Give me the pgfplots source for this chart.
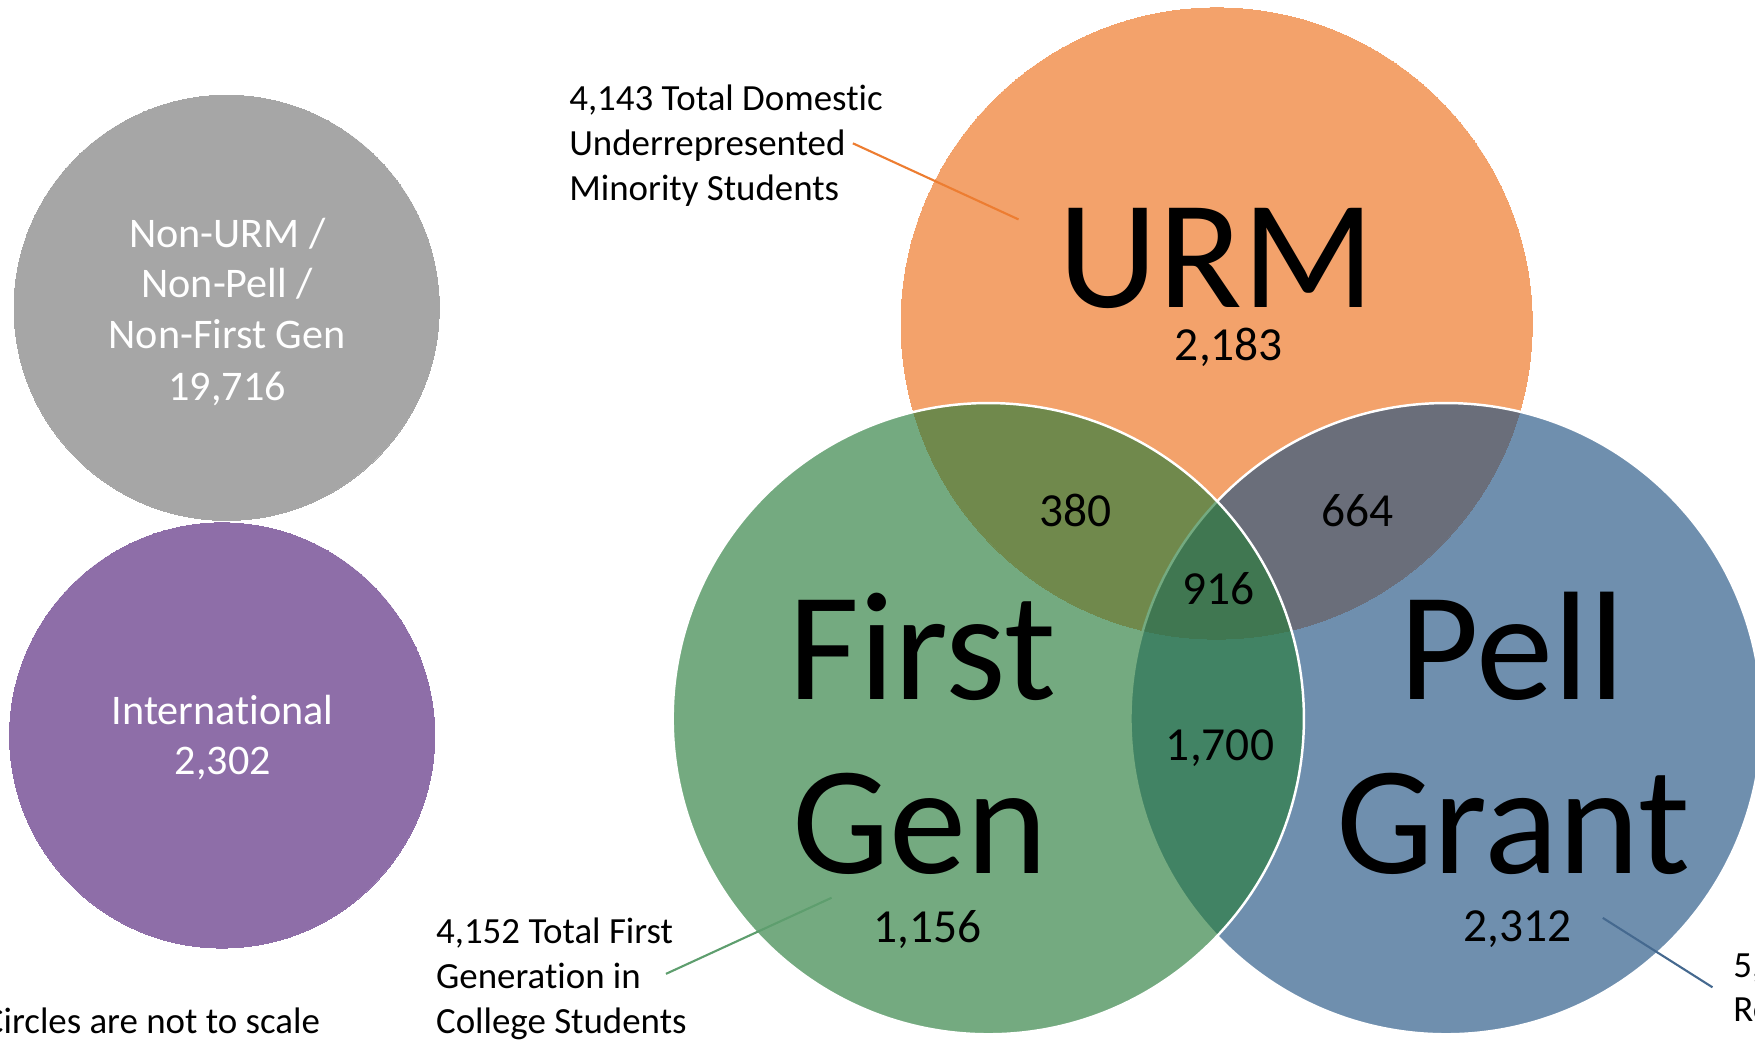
\documentclass[border=0pt]{standalone}
\usepackage{pgfplots}
\pgfplotsset{compat=1.18}
\usepackage{fontspec}
\setmainfont{Carlito}[Ligatures={NoCommon}]
\definecolor{grayc}{RGB}{166,166,166}
\definecolor{purplec}{RGB}{142,110,168}
\definecolor{orangec}{RGB}{243,162,107}
\definecolor{bluec}{RGB}{34,83,131}
\definecolor{greenc}{RGB}{42,125,60}
\definecolor{orangeline}{RGB}{237,125,49}
\definecolor{greenline}{RGB}{94,158,110}
\definecolor{blueline}{RGB}{69,105,143}
\tikzset{
  num/.style={anchor=base, inner sep=0pt, font=\fontsize{13.5}{16}\selectfont},
  big/.style={anchor=base, inner sep=0pt, font=\fontsize{44}{48}\selectfont},
  wt/.style={anchor=base, inner sep=0pt, text=white, font=\fontsize{12}{14.4}\selectfont},
  call/.style={anchor=base west, inner sep=0pt, font=\fontsize{10.5}{12.7}\selectfont},
}
\pgfplotsset{canvas/.style={at={(0,0)}, anchor=south west, width=17.55cm, height=10.41cm,
  scale only axis, xmin=0, xmax=1568, ymin=0, ymax=930, y dir=reverse,
  hide axis, clip=false}}
\begin{document}
\begin{tikzpicture}
\useasboundingbox (0,0) rectangle (17.55cm,10.41cm);
\clip (0,0) rectangle (17.55cm,10.41cm);
\begin{axis}[canvas]
% small circles
\addplot[only marks, mark=*, color=grayc, mark size=60.5pt, mark options={fill=grayc, line width=0pt}] coordinates {(202.5,275)};
\addplot[only marks, mark=*, color=purplec, mark size=60.5pt, mark options={fill=purplec, line width=0pt}] coordinates {(198.5,657)};
% Venn circles
\addplot[only marks, mark=*, color=orangec, mark size=89.8pt, mark options={fill=orangec, line width=0pt}] coordinates {(1087,289)};
\addplot[only marks, mark=*, color=white, mark size=89.8pt, mark options={fill=bluec, fill opacity=0.65, draw=white, draw opacity=1, line width=0.7pt}] coordinates {(1292,642)};
\addplot[only marks, mark=*, color=white, mark size=89.8pt, mark options={fill=greenc, fill opacity=0.65, draw=white, draw opacity=1, line width=0.7pt}] coordinates {(883,642)};
\end{axis}
\begin{axis}[canvas]
% leader lines
\addplot[orangeline, line width=0.6pt, no marks] coordinates {(762,128) (910,196)};
\addplot[greenline, line width=0.6pt, no marks] coordinates {(595,870) (743,802)};
\addplot[blueline, line width=0.6pt, no marks] coordinates {(1432,820) (1530,882)};
% gray circle text
\node[wt] at (axis cs:203,221) {Non-URM /};
\node[wt] at (axis cs:203,266) {Non-Pell /};
\node[wt] at (axis cs:203,311) {Non-First Gen};
\node[wt] at (axis cs:203,358) {19,716};
% purple circle text
\node[wt] at (axis cs:199,647) {International};
\node[wt] at (axis cs:199,692) {2,302};
% big labels
\node[big] at (axis cs:1087,275) {URM};
\node[big] at (axis cs:824,625) {First};
\node[big] at (axis cs:822,780) {Gen};
\node[big] at (axis cs:1351,625) {Pell};
\node[big] at (axis cs:1352,780) {Grant};
% numbers
\node[num] at (axis cs:1098,322) {2,183};
\node[num] at (axis cs:961,470) {380};
\node[num] at (axis cs:1213,470) {664};
\node[num] at (axis cs:1089,540) {916};
\node[num] at (axis cs:1090,679) {1,700};
\node[num] at (axis cs:829,842) {1,156};
\node[num] at (axis cs:1356,841) {2,312};
% callouts
\node[call] at (axis cs:508,99) {4,143 Total Domestic};
\node[call] at (axis cs:508,139) {Underrepresented};
\node[call] at (axis cs:508,179) {Minority Students};
\node[call] at (axis cs:389,843) {4,152 Total First};
\node[call] at (axis cs:389,883) {Generation in};
\node[call] at (axis cs:389,923) {College Students};
\node[call] at (axis cs:1548,873) {5,592 Total Pell Grant};
\node[call] at (axis cs:1548,913) {Recipients};
\node[call] at (axis cs:-15,923) {Circles are not to scale};
\end{axis}
\end{tikzpicture}
\end{document}
